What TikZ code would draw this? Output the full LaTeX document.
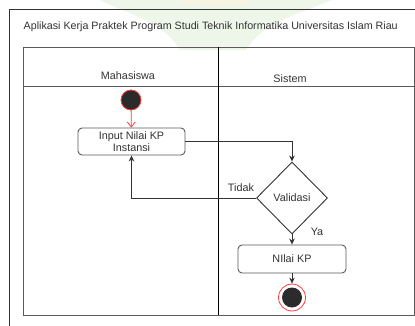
\documentclass[tikz,border=0pt]{standalone}
\usepackage{fontspec}
\setmainfont{Liberation Sans}
\usetikzlibrary{arrows.meta,shapes.geometric}
\definecolor{ink}{HTML}{333333}
\definecolor{frame}{HTML}{5A5A5A}
\definecolor{startred}{HTML}{FF3B3B}
\definecolor{dot}{HTML}{2B2B2B}
\definecolor{wmgreen}{HTML}{EEF6EA}
\definecolor{wmyellow}{HTML}{F7F4E4}
\tikzset{
  lbl/.style={font=\fontsize{10.8}{12.5}\selectfont, text=ink},
  activity/.style={draw=frame, line width=0.9pt, rounded corners=4pt, fill=white,
    minimum width=107pt, minimum height=27pt, align=center, inner sep=1pt,
    font=\fontsize{10.8}{12.5}\selectfont, text=ink},
  decision/.style={draw=ink, line width=0.9pt, diamond, aspect=1, fill=white,
    minimum width=71pt, minimum height=72pt, inner sep=0pt,
    font=\fontsize{10.8}{12.5}\selectfont, text=ink},
  flow/.style={draw=ink, line width=0.9pt, -{Stealth[length=6pt,width=5.5pt]}},
  startflow/.style={draw=startred, line width=0.8pt, -{Straight Barb[length=5pt,width=8pt]}},
}
\begin{document}
\begin{tikzpicture}[x=1pt,y=-1pt]
  \useasboundingbox (0,0) rectangle (415,326);
  \fill[white] (0,0) rectangle (415,326);
  % faint logo watermark behind the title
  \fill[wmgreen] (100,0) -- (332,0) .. controls (300,14) and (262,22) .. (246,50)
     -- (180,50) .. controls (164,22) and (128,14) .. (100,0) -- cycle;
  \fill[wmyellow] (175,0) -- (255,0) .. controls (240,8) and (190,8) .. (175,0) -- cycle;
  % outer frame
  \draw[ink, line width=0.9pt] (9.5,326) -- (9.5,9) -- (415,9);
  % title
  \node[anchor=west, inner sep=0pt, font=\fontsize{10.7}{12.5}\selectfont, text=ink]
    (title) at (23.5,27) {Aplikasi Kerja Praktek Program Studi Teknik Informatika Universitas Islam Riau};
  % swimlane table
  \draw[frame, line width=0.9pt] (23,47) rectangle (414,315);
  \draw[frame, line width=0.9pt] (23,86) -- (414,86);
  \draw[black, line width=0.9pt] (218,47) -- (218,315);
  \node[lbl] (lane1) at (128,76) {Mahasiswa};
  \node[lbl] (lane2) at (290,78.5) {Sistem};
  % activity nodes
  \node[circle, fill=dot, draw=startred, line width=0.8pt, minimum size=20pt, inner sep=0pt] (start) at (131,100) {};
  \node[activity] (input) at (131.5,141.5) {Input Nilai KP\\Instansi};
  \node[decision] (valid) at (292,198) {Validasi};
  \node[activity, minimum width=108pt, minimum height=28pt] (nilai) at (292,259) {NIlai KP};
  \node[circle, draw=startred, line width=0.8pt, fill=white, minimum size=27pt, inner sep=0pt] (end) at (292,297.5) {};
  \node[circle, fill=dot, minimum size=20pt, inner sep=0pt] (endin) at (end.center) {};
  % connectors
  \draw[startflow] (start) -- (input);
  \draw[flow] (input.east) -| (valid.north);
  \draw[flow] (valid.west) -| (input.south);
  \draw[flow] (valid.south) -- (nilai.north);
  \draw[flow] (nilai.south) -- (end.north);
  \node[lbl] (tidak) at (241,188) {Tidak};
  \node[lbl] (ya) at (317,232) {Ya};
\end{tikzpicture}
\end{document}
